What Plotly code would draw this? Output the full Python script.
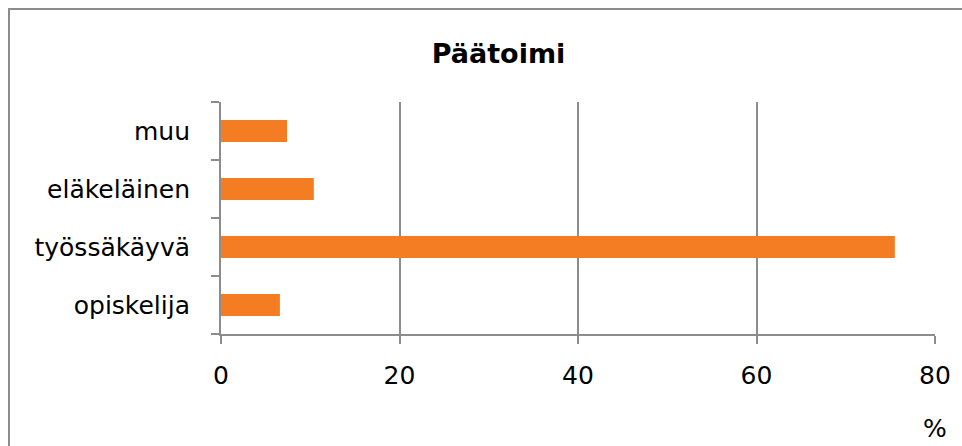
import plotly.graph_objects as go

categories = ["opiskelija", "työssäkäyvä", "eläkeläinen", "muu"]
values = [6.6, 75.5, 10.4, 7.4]
x_ticks = [0, 20, 40, 60, 80]
title_text = "Päätoimi"
unit_label = "%"

W, H = 962, 446
L, R, T, B = 221, 27, 102, 112
plot_w, plot_h = W - L - R, H - T - B

fig = go.Figure(go.Bar(
    x=values, y=categories, orientation="h",
    marker=dict(color="#F47D23", line=dict(width=0)),
    width=0.38,
))

font_family = "DejaVu Sans, sans-serif"
fig.update_layout(
    width=W, height=H,
    margin=dict(l=L, r=R, t=T, b=B),
    paper_bgcolor="white", plot_bgcolor="white",
    title=dict(text="<b>" + title_text + "</b>", x=498.5 / W, xanchor="center",
               y=1 - 54 / H, yanchor="middle",
               font=dict(family=font_family, size=27, color="black")),
    showlegend=False,
    xaxis=dict(range=[0, 80], tickvals=x_ticks, showgrid=True,
               gridcolor="#8C8C8C", gridwidth=2,
               showline=True, linecolor="#8C8C8C", linewidth=2,
               ticks="outside", ticklen=8, tickwidth=2, tickcolor="#8C8C8C",
               tickfont=dict(family=font_family, size=25, color="black"),
               ticklabelstandoff=10, zeroline=False),
    yaxis=dict(categoryorder="array", categoryarray=categories,
               showline=True, linecolor="#8C8C8C", linewidth=2,
               ticks="outside", ticklen=8, tickwidth=2, tickcolor="#8C8C8C",
               tickson="boundaries", showgrid=False,
               tickfont=dict(family=font_family, size=25, color="black"),
               ticklabelstandoff=24),
    shapes=[dict(type="rect", xref="paper", yref="paper",
                 x0=-(L - 9) / plot_w, x1=1.2, y0=-0.6, y1=1.0 + (T - 9) / plot_h,
                 line=dict(color="#8C8C8C", width=2))],
    annotations=[dict(text=unit_label, x=80, y=-(428 - (H - B)) / plot_h,
                      xref="x", yref="paper",
                      showarrow=False, xanchor="center", yanchor="middle",
                      font=dict(family=font_family, size=25, color="black"))],
)
fig.write_html("out.html", config={"displayModeBar": False},
               post_script="document.body.style.margin='0';document.body.style.overflow='hidden';")
